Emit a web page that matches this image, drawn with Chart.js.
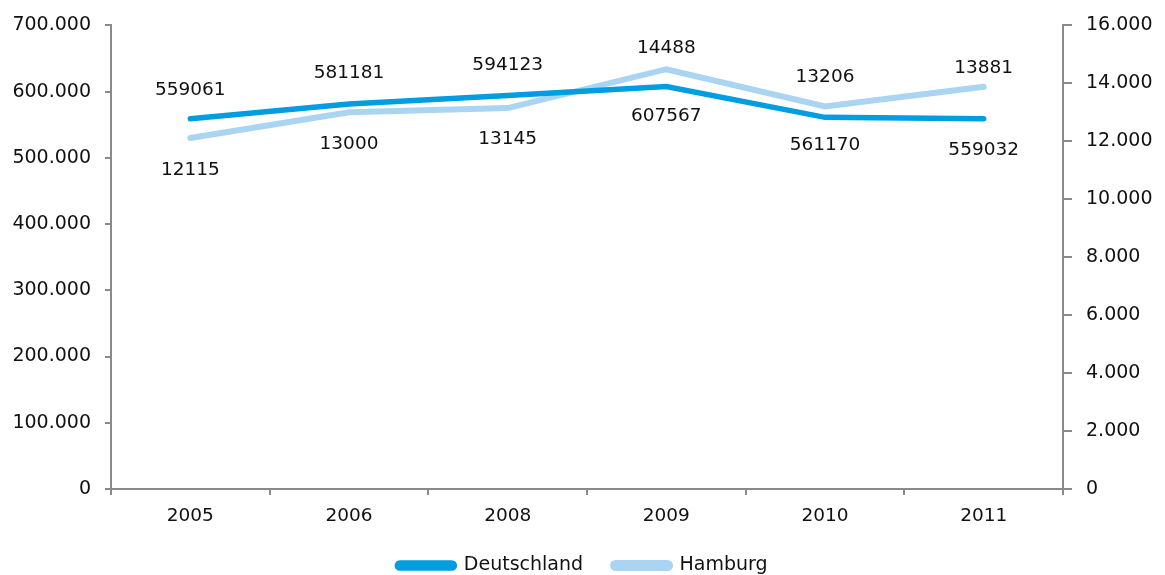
<!DOCTYPE html>
<html>
<head>
<meta charset="utf-8">
<script src="https://cdn.jsdelivr.net/npm/chart.js@4.4.1/dist/chart.umd.min.js"></script>
<style>
  html, body { margin: 0; padding: 0; background: #fff; overflow: hidden; }
  #wrap { width: 1165px; height: 585px; }
</style>
</head>
<body>
<div id="wrap"><canvas id="c" width="1165" height="585"></canvas></div>
<script>
// Years on the category axis
const years = ['2005', '2006', '2008', '2009', '2010', '2011'];
// Germany (left axis) and Hamburg (right axis)
const deutschland = [559061, 581181, 594123, 607567, 561170, 559032];
const hamburg = [12115, 13000, 13145, 14488, 13206, 13881];
// Vertical distance (px) of each value label from its point; negative = above
const deLabelShift = [-29, -31, -30, 30, 28, 31];
const hhLabelShift = [32, 32, 31, -21, -29, -19];

const FONT = '"DejaVu Sans", Verdana, sans-serif';
const AXIS = '#8a8a8a';

const fmt = v => v.toLocaleString('de-DE');

const valueLabels = {
  id: 'valueLabels',
  afterDatasetsDraw(chart) {
    const ctx = chart.ctx;
    ctx.save();
    ctx.font = '18.5px ' + FONT;
    ctx.fillStyle = '#111';
    ctx.textAlign = 'center';
    ctx.textBaseline = 'middle';
    const shifts = [deLabelShift, hhLabelShift];
    chart.data.datasets.forEach((ds, di) => {
      chart.getDatasetMeta(di).data.forEach((pt, i) => {
        ctx.fillText(String(ds.data[i]), pt.x, pt.y + shifts[di][i]);
      });
    });
    ctx.restore();
  }
};

new Chart(document.getElementById('c'), {
  type: 'line',
  data: {
    labels: years,
    datasets: [
      {
        label: 'Deutschland',
        data: deutschland,
        yAxisID: 'yL',
        borderColor: '#009ee0',
        backgroundColor: '#009ee0',
        borderWidth: 5.5,
        pointRadius: 0,
        tension: 0,
        borderCapStyle: 'round'
      },
      {
        label: 'Hamburg',
        data: hamburg,
        yAxisID: 'yR',
        borderColor: '#a9d5f3',
        backgroundColor: '#a9d5f3',
        borderWidth: 6,
        pointRadius: 0,
        tension: 0,
        borderCapStyle: 'round'
      }
    ]
  },
  options: {
    responsive: false,
    animation: false,
    layout: { padding: { top: 21, left: 0, right: 0, bottom: 0 } },
    plugins: {
      tooltip: { enabled: false },
      legend: {
        position: 'bottom',
        labels: {
          font: { family: FONT, size: 19 },
          color: '#111',
          boxWidth: 57,
          boxHeight: 5,
          useBorderRadius: true,
          borderRadius: 2.5,
          padding: 30
        }
      }
    },
    scales: {
      x: {
        type: 'category',
        offset: true,
        grid: { display: true, offset: true, drawOnChartArea: false, drawTicks: true, tickLength: 6, color: AXIS, lineWidth: 2 },
        border: { display: true, color: AXIS, width: 2 },
        ticks: { font: { family: FONT, size: 18.5 }, color: '#111', padding: 10, maxRotation: 0 },
        afterFit(s) { s.height = 37; }
      },
      yL: {
        type: 'linear',
        position: 'left',
        min: 0, max: 700000,
        ticks: { stepSize: 100000, font: { family: FONT, size: 19 }, color: '#111', padding: 14, callback: v => fmt(v) },
        grid: { display: true, drawOnChartArea: false, drawTicks: true, tickLength: 6, color: AXIS, lineWidth: 2 },
        border: { display: true, color: AXIS, width: 2 },
        afterFit(s) { s.width = 111; }
      },
      yR: {
        type: 'linear',
        position: 'right',
        min: 0, max: 16000,
        ticks: { stepSize: 2000, font: { family: FONT, size: 19 }, color: '#111', padding: 14, callback: v => fmt(v) },
        grid: { display: true, drawOnChartArea: false, drawTicks: true, tickLength: 9, color: AXIS, lineWidth: 2 },
        border: { display: true, color: AXIS, width: 2 },
        afterFit(s) { s.width = 102; }
      }
    }
  },
  plugins: [valueLabels]
});
</script>
</body>
</html>
